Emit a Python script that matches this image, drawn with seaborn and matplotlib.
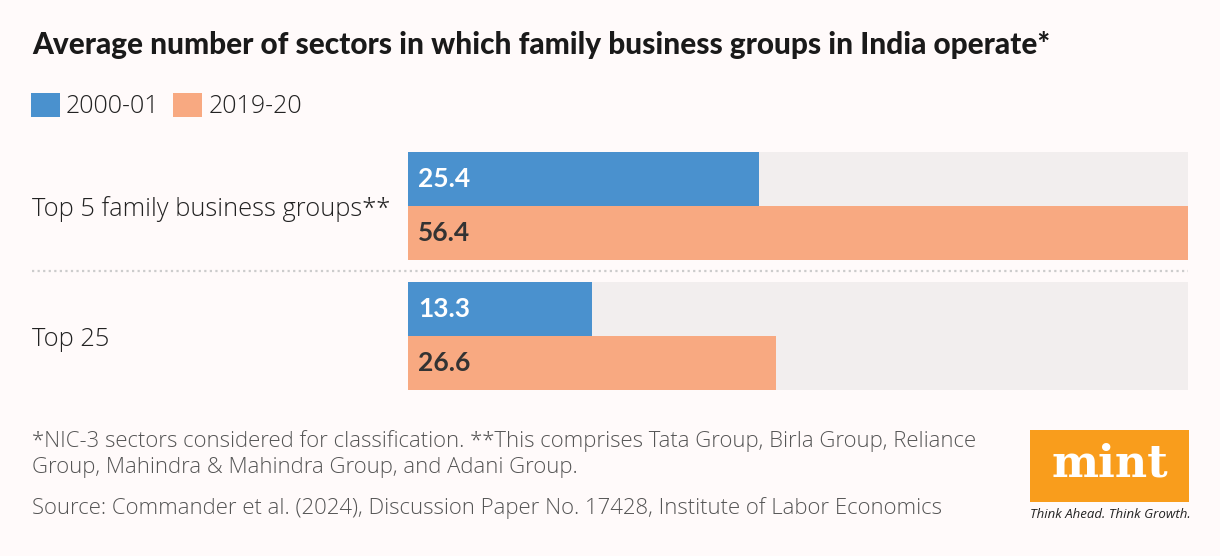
import matplotlib
matplotlib.use("Agg")
import matplotlib.pyplot as plt
import seaborn as sns
import pandas as pd
from matplotlib.patches import Patch, Rectangle

groups = ["Top 5 family business groups**", "Top 25"]
periods = ["2000-01", "2019-20"]
values_2000 = [25.4, 13.3]
values_2019 = [56.4, 26.6]
value_labels_2000 = ["25.4", "13.3"]
value_labels_2019 = ["56.4", "26.6"]

title = "Average number of sectors in which family business groups in India operate*"
note1 = "*NIC-3 sectors considered for classification. **This comprises Tata Group, Birla Group, Reliance"
note2 = "Group, Mahindra & Mahindra Group, and Adani Group."
source = "Source: Commander et al. (2024), Discussion Paper No. 17428, Institute of Labor Economics"

BLUE = "#4a91ce"
ORANGE = "#f8a981"
GREY = "#f2eeee"
BG = "#fffafa"
TXT = "#222222"

sns.set_theme(style="white")
plt.rcParams["font.family"] = ["Open Sans", "DejaVu Sans"]

df = pd.DataFrame({
    "group": groups * 2,
    "period": [periods[0]] * 2 + [periods[1]] * 2,
    "value": values_2000 + values_2019,
})
vmax = max(values_2000 + values_2019)

W, H = 1220, 556
fig = plt.figure(figsize=(W / 100, H / 100), dpi=100, facecolor=BG)
ax = fig.add_axes([408 / W, 1 - 390 / H, 780 / W, 238 / H])
ax.set_facecolor(BG)

bw = 108 / 130
sns.barplot(x=[vmax, vmax], y=groups, color=GREY, width=bw, ax=ax,
            orient="h", saturation=1, linewidth=0)
sns.barplot(data=df, x="value", y="group", hue="period", orient="h",
            palette=[BLUE, ORANGE], width=bw, ax=ax, saturation=1,
            legend=False, linewidth=0)

ax.set_xlim(0, vmax)
ax.set_ylim(1 + bw / 2, -bw / 2)
for s in ax.spines.values():
    s.set_visible(False)
ax.set_xticks([])
ax.set_xlabel("")
ax.set_ylabel("")
ax.tick_params(axis="y", length=0, pad=376 * 72 / 100, labelsize=18.4,
               labelcolor=TXT)
for lab in ax.get_yticklabels():
    lab.set_horizontalalignment("left")
    lab.set_fontweight(300)

conts = ax.containers[-2:]
for cont, labs, col in zip(conts, [value_labels_2000, value_labels_2019],
                           ["white", "#333333"]):
    for p, t in zip(cont.patches, labs):
        ax.annotate(t, (0, p.get_y() + p.get_height() / 2),
                    xytext=(10, 0), textcoords="offset pixels",
                    ha="left", va="center", color=col, fontsize=19,
                    fontweight="bold", family=["Lato", "DejaVu Sans"])

ax.axhline(0.5, xmin=(32 - 408) / 780, xmax=1, clip_on=False,
           color="#cccccc", linestyle=(0, (1, 1.5)), lw=1.6)

fig.text(32 / W, 1 - 45 / H, title, fontsize=21.4, fontweight="black",
         color="#1a1a1a", va="center", ha="left", family=["Lato", "DejaVu Sans"])

handles = [Patch(facecolor=BLUE, edgecolor="none"),
           Patch(facecolor=ORANGE, edgecolor="none")]
fig.legend(handles, periods, loc="center left",
           bbox_to_anchor=(21 / W, 1 - 106 / H), frameon=False, ncol=2,
           handlelength=1.15, handleheight=1.15,
           handletextpad=0.25, columnspacing=0.55, borderaxespad=0,
           prop={"size": 18, "weight": 300}, labelcolor=TXT)

for y, t in [(441, note1), (467, note2), (508, source)]:
    fig.text(32 / W, 1 - y / H, t, fontsize=15.9, color="#555555",
             va="center", ha="left", fontweight=300)

fig.patches.append(Rectangle((1030 / W, 1 - 502 / H), 159 / W, 72 / H,
                             transform=fig.transFigure, facecolor="#f99d1c",
                             edgecolor="none"))
fig.text(1110 / W, 1 - 464 / H, "mint", fontsize=32, fontweight="bold",
         family="DejaVu Serif", color="white", ha="center", va="center")
fig.text(1110 / W, 1 - 515 / H, "Think Ahead. Think Growth.", fontsize=9.5,
         style="italic", color="#222222", ha="center", va="center")

fig.savefig("out.png", dpi=100, facecolor=BG)
